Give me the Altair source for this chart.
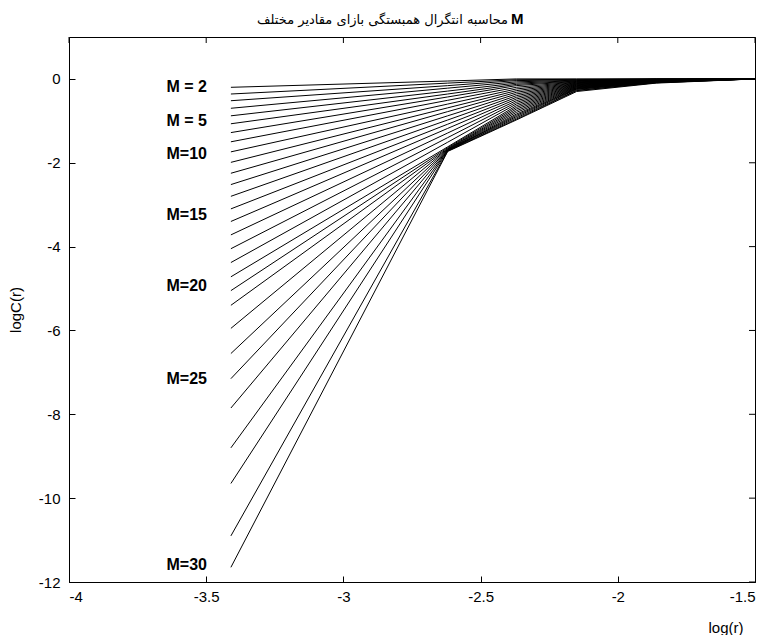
import altair as alt
import pandas as pd

# x positions (log r) at which each curve is sampled
x_nodes = [-3.41, -2.62, -2.37, -2.15, -1.86, -1.5]

m_values = list(range(2, 31))

# logC(r) values per node, one list per node (index = M-2)
y_start = [-0.20, -0.36, -0.52, -0.70, -0.88, -1.07, -1.28, -1.50, -1.74, -1.99,
           -2.25, -2.52, -2.80, -3.10, -3.40, -3.72, -4.05, -4.38, -4.72, -5.05,
           -5.40, -5.95, -6.55, -7.15, -7.85, -8.80, -9.65, -10.90, -11.65]
y_knee = [-0.05, -0.10, -0.16, -0.22, -0.29, -0.36, -0.43, -0.51, -0.60, -0.69,
          -0.78, -0.88, -0.98, -1.08, -1.18, -1.29, -1.40, -1.51, -1.62, -1.64,
          -1.66, -1.67, -1.68, -1.69, -1.70, -1.70, -1.71, -1.72, -1.73]
y_mid = [0.00, -0.02, -0.04, -0.07, -0.10, -0.13, -0.16, -0.20, -0.24, -0.28,
         -0.32, -0.36, -0.40, -0.44, -0.48, -0.52, -0.56, -0.60, -0.64, -0.68,
         -0.72, -0.76, -0.80, -0.84, -0.87, -0.90, -0.93, -0.96, -0.98]
y_late = [0.00, -0.01, -0.02, -0.03, -0.04, -0.05, -0.06, -0.07, -0.08, -0.09,
          -0.10, -0.11, -0.12, -0.13, -0.14, -0.15, -0.16, -0.17, -0.18, -0.19,
          -0.20, -0.21, -0.22, -0.23, -0.24, -0.25, -0.27, -0.28, -0.30]
y_tail = [0.00, 0.00, 0.00, -0.01, -0.01, -0.01, -0.02, -0.02, -0.02, -0.03,
          -0.03, -0.03, -0.04, -0.04, -0.04, -0.05, -0.05, -0.05, -0.06, -0.06,
          -0.06, -0.07, -0.07, -0.07, -0.08, -0.08, -0.09, -0.09, -0.10]
y_end = [0.0] * 29

label_text = ["M = 2", "M = 5", "M=10", "M=15", "M=20", "M=25", "M=30"]
label_y = [-0.2, -1.0, -1.8, -3.25, -4.95, -7.15, -11.6]

title_fa = "محاسبه انتگرال همبستگی بازای مقادیر مختلف"
title_m = "M"

x_ticks = [-4, -3.5, -3, -2.5, -2, -1.5]
y_ticks = [-12, -10, -8, -6, -4, -2, 0]

rows = []
series = [y_start, y_knee, y_mid, y_late, y_tail, y_end]
for i, m in enumerate(m_values):
    for xv, ys in zip(x_nodes, series):
        rows.append({"M": m, "x": xv, "y": ys[i]})
df = pd.DataFrame(rows)

W, H = 686, 545
xs = alt.Scale(domain=[-4, -1.5], nice=False, zero=False)
ys_ = alt.Scale(domain=[-12, 1], nice=False, zero=False)

x_axis = alt.Axis(values=x_ticks, title="log(r)", ticks=True,
                  tickSize=alt.ExprRef(expr="-6"), tickColor="black",
                  labelPadding=13, labelExpr="'' + datum.value",
                  titleX=W - 12, titleY=45, titleAlign="right",
                  titleBaseline="middle")
y_axis = alt.Axis(values=y_ticks, title="logC(r)", ticks=True,
                  tickSize=alt.ExprRef(expr="-6"), tickColor="black",
                  labelPadding=15, labelExpr="'' + datum.value", titlePadding=15)

lines = alt.Chart(df).mark_line(color="black", strokeWidth=1).encode(
    x=alt.X("x:Q", scale=xs, axis=x_axis),
    y=alt.Y("y:Q", scale=ys_, axis=y_axis),
    detail="M:N",
)

ytdf = pd.DataFrame({"v": y_ticks})
xtdf = pd.DataFrame({"v": x_ticks})

ytick_r = alt.Chart(ytdf).mark_rule(color="black", strokeWidth=1).encode(
    y=alt.Y("v:Q", scale=ys_, axis=y_axis), x=alt.value(W - 6), x2=alt.value(W))
xtick_t = alt.Chart(xtdf).mark_rule(color="black", strokeWidth=1).encode(
    x=alt.X("v:Q", scale=xs, axis=x_axis), y=alt.value(0), y2=alt.value(6))

ldf = pd.DataFrame({"t": label_text, "ly": label_y})
labels = alt.Chart(ldf).mark_text(
    align="right", baseline="middle", fontWeight="bold", fontSize=16,
    font="Liberation Sans", color="black").encode(
    x=alt.value(138), y=alt.Y("ly:Q", scale=ys_, axis=y_axis), text="t:N")

tdf = pd.DataFrame({"fa": [title_fa], "m": [title_m]})
title_text = alt.Chart(tdf).mark_text(
    align="right", baseline="middle", fontSize=13, font="DejaVu Sans",
    color="black").encode(x=alt.value(439), y=alt.value(-17), text="fa:N")
title_bold = alt.Chart(tdf).mark_text(
    align="left", baseline="middle", fontSize=15, fontWeight="bold",
    font="Liberation Sans", color="black").encode(
    x=alt.value(442), y=alt.value(-18), text="m:N")

chart = alt.layer(lines, ytick_r, xtick_t, labels, title_text, title_bold).properties(
    width=W, height=H,
    padding={"left": 0, "top": 4, "right": 2, "bottom": 0},
).configure_view(stroke="black", strokeWidth=1).configure_axis(
    domainColor="black", labelColor="black", titleColor="black",
    labelFont="Liberation Sans", titleFont="Liberation Sans",
    labelFontSize=15, titleFontSize=15, titleFontWeight="normal", grid=False,
)

chart.save("out.html", embed_options={"renderer": "svg", "actions": False})
